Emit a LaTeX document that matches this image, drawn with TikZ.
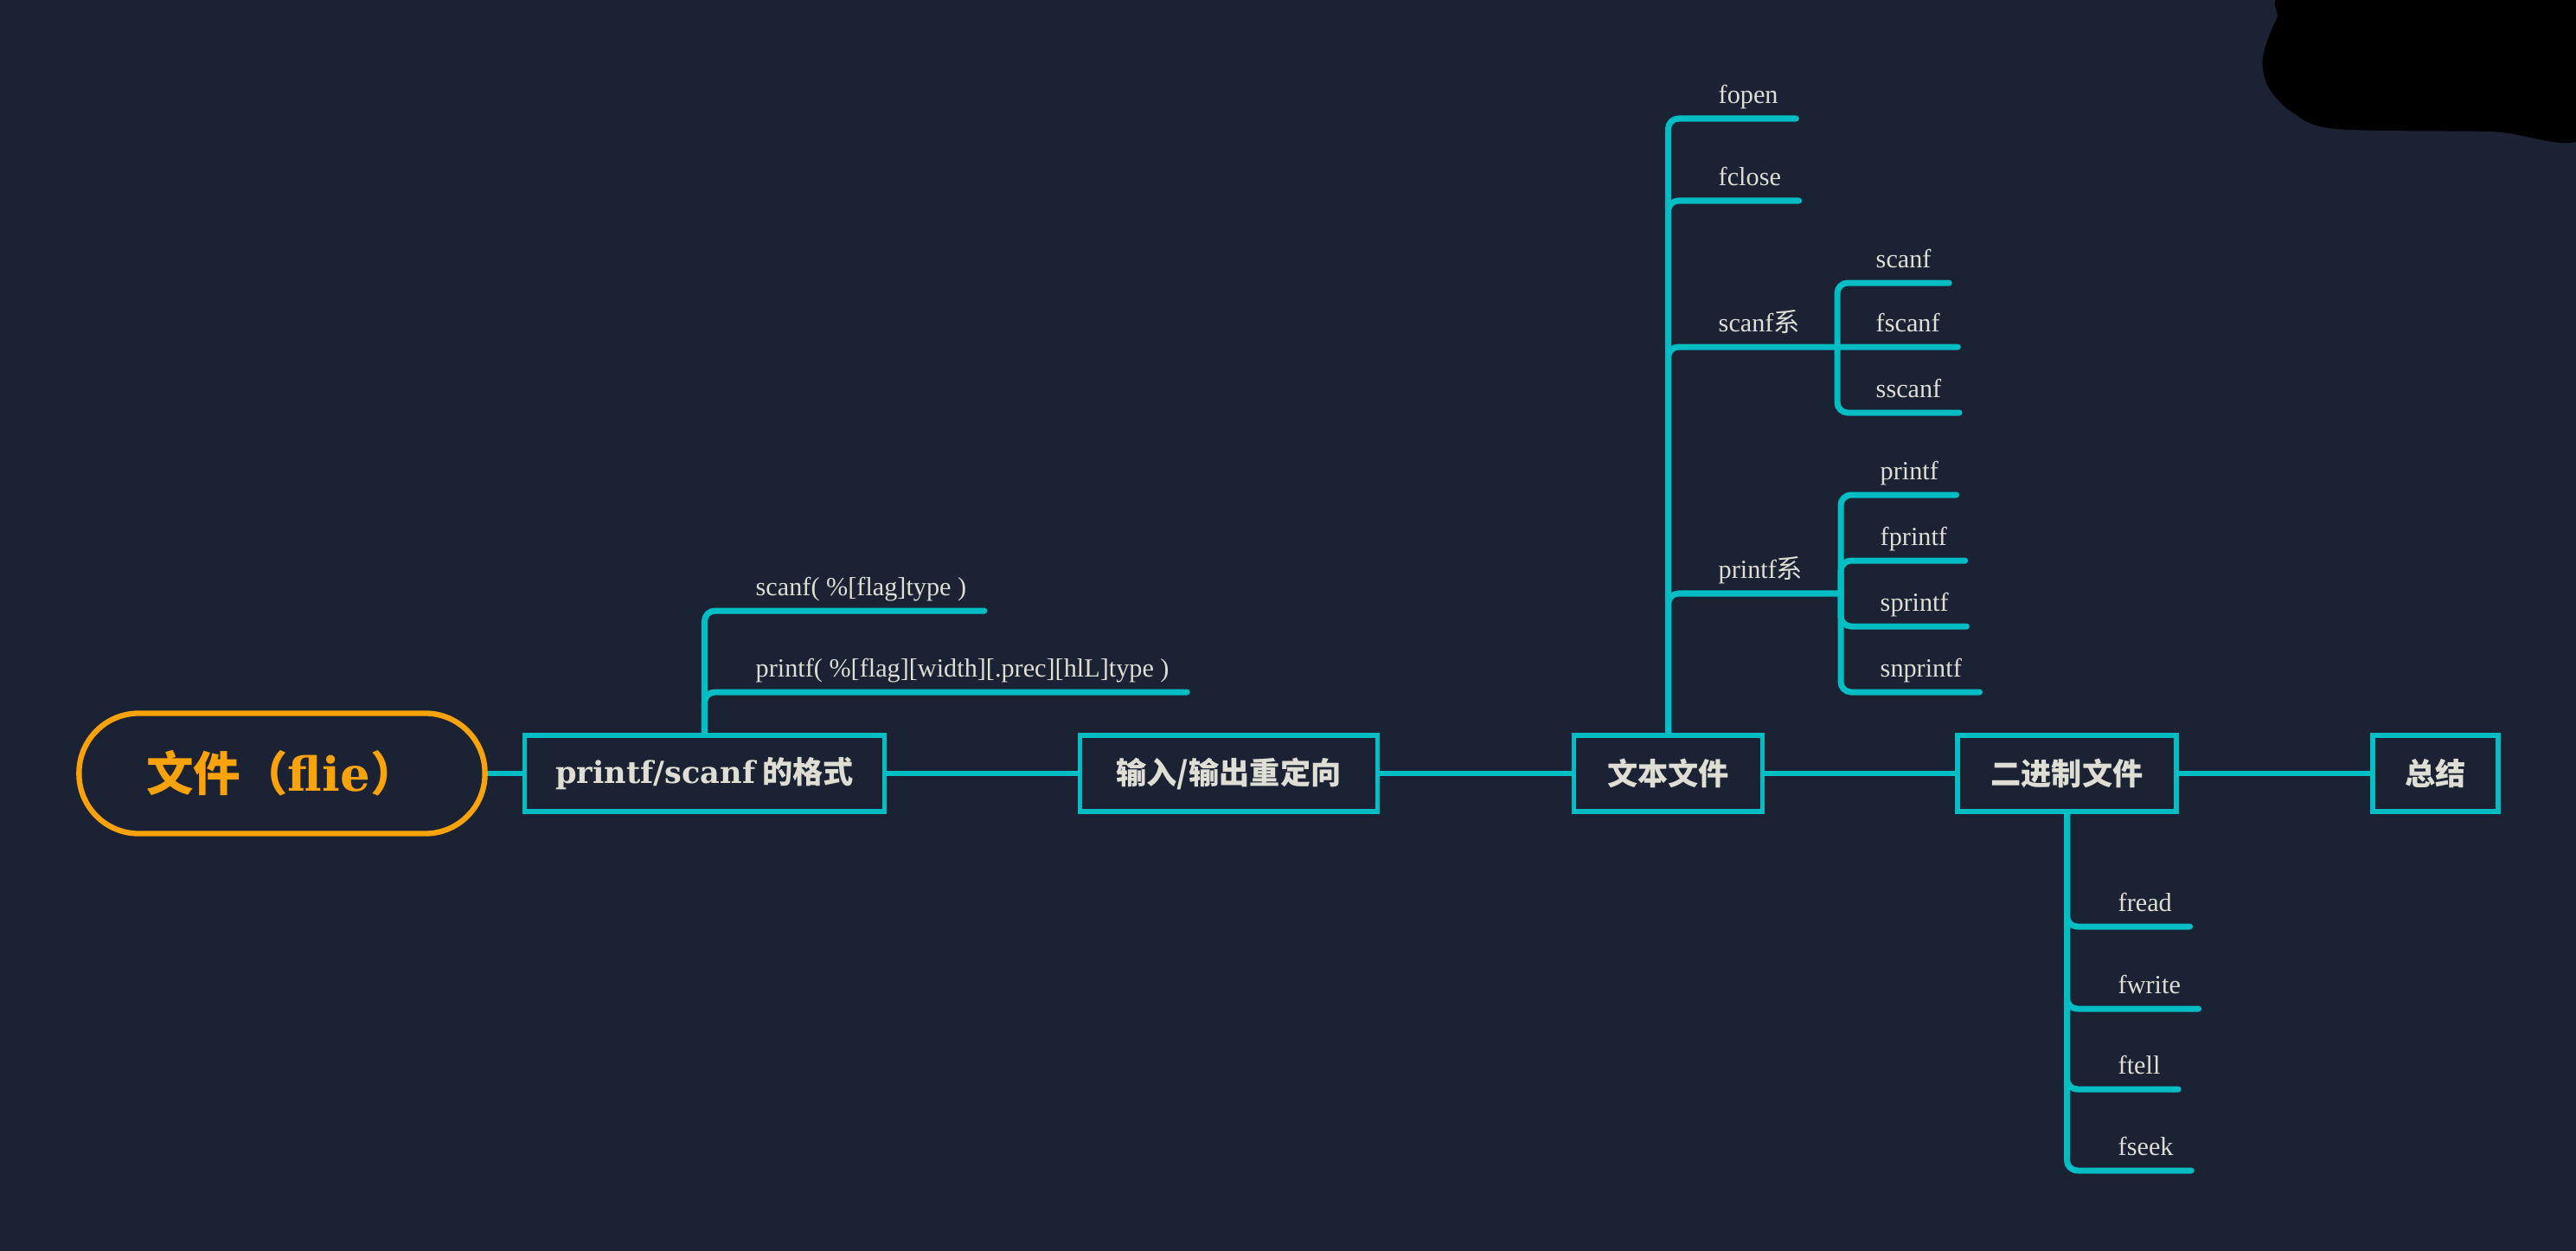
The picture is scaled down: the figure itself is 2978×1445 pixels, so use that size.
\documentclass[tikz,border=0pt]{standalone}
\usepackage{fontspec}
\setmainfont{Liberation Serif}
\newfontfamily\cjk{Noto Sans CJK SC}
\newfontfamily\georgia{DejaVu Serif}
\usetikzlibrary{calc}

\definecolor{bgnavy}{RGB}{27,34,52}
\definecolor{linecyan}{RGB}{0,190,196}
\definecolor{rootorange}{RGB}{250,162,10}
\definecolor{labelgrey}{RGB}{222,222,212}

\tikzset{
	root/.style={draw=rootorange, line width=1.8pt, rounded corners=6.9mm,
		fill=bgnavy, text=rootorange, inner sep=0pt,
		minimum width=4.69cm, minimum height=1.39cm,
		font=\fontsize{15.5}{18}\selectfont\cjk\bfseries},
	topic/.style={draw=linecyan, line width=1.5pt, fill=bgnavy,
		text=labelgrey, inner sep=0pt, minimum height=0.88cm,
		font=\fontsize{10}{12}\selectfont\cjk\bfseries},
	leaf/.style={anchor=base west, inner xsep=2mm, inner ysep=0pt,
		text=labelgrey, font=\fontsize{8.6}{10}\selectfont},
	branch/.style={draw=linecyan, line width=2pt, rounded corners=1.2mm,
		line cap=round},
	link/.style={draw=linecyan, line width=1.6pt}
}

\begin{document}
\begin{tikzpicture}[x=0.01cm, y=-0.01cm]
	\useasboundingbox (0,0) rectangle (2978,1445);
	\fill[bgnavy] (-20,-20) rectangle (2998,1465);
	
	% scribble in the corner
	\fill[black] plot[smooth cycle] coordinates {(2660,-10) (2990,-10)
		(2990,156) (2880,152) (2700,149) (2650,130) (2622,100) (2616,66)
		(2632,22)};
	
	\node[root] (file) at (326,894) {文件（{\georgia flie}）};
	
	\node[topic, minimum width=4.16cm] (fmt)   at (814.5,894)
		{{\georgia printf/scanf} 的格式};
	\node[topic, minimum width=3.44cm] (redir) at (1420.5,894)
		{输入/输出重定向};
	\node[topic, minimum width=2.18cm] (txt)   at (1928.5,894)
		{文本文件};
	\node[topic, minimum width=2.53cm] (bin)   at (2389.5,894)
		{二进制文件};
	\node[topic, minimum width=1.45cm] (sum)   at (2815.5,894)
		{总结};
	
	\draw[link] (file) -- (fmt) -- (redir) -- (txt) -- (bin) -- (sum);
	
	% printf/scanf
	\node[leaf] (scanffmt)  at (853,688) {scanf( \%[flag]type )};
	\node[leaf] (printffmt) at (853,782)
		{printf( \%[flag][width][.prec][hlL]type )};
	
	\draw[branch] (fmt.north) |- ([yshift=-1.8mm]scanffmt.base east);
	\draw[branch] (fmt.north) |- ([yshift=-1.8mm]printffmt.base east);
	
	% text files
	\node[leaf] (fopen)   at (1966,119) {fopen};
	\node[leaf] (fclose)  at (1966,214) {fclose};
	\node[leaf] (scanfs)  at (1966,383) {scanf{\cjk 系}};
	\node[leaf] (printfs) at (1966,668) {printf{\cjk 系}};
	
	\node[leaf] (scanf)  at (2148,309) {scanf};
	\node[leaf] (fscanf) at (2148,383) {fscanf};
	\node[leaf] (sscanf) at (2148,459) {sscanf};
	
	\node[leaf] (printf)   at (2153,554) {printf};
	\node[leaf] (fprintf)  at (2153,630) {fprintf};
	\node[leaf] (sprintf)  at (2153,706) {sprintf};
	\node[leaf] (snprintf) at (2153,782) {snprintf};
	
	\coordinate (scanfj)  at (2124,401);
	\coordinate (printfj) at (2128,686);
	
	\draw[branch] (txt.north) |- ([yshift=-1.8mm]fopen.base east);
	\draw[branch] (txt.north) |- ([yshift=-1.8mm]fclose.base east);
	\draw[branch] (txt.north) |- ([yshift=-1.8mm]fscanf.base east);
	\draw[branch] (txt.north) |- (printfj);
	
	\draw[branch] (scanfj) |- ([yshift=-1.8mm]scanf.base east);
	\draw[branch] (scanfj) |- ([yshift=-1.8mm]sscanf.base east);
	
	\draw[branch] (printfj) |- ([yshift=-1.8mm]printf.base east);
	\draw[branch] (printfj) |- ([yshift=-1.8mm]fprintf.base east);
	\draw[branch] (printfj) |- ([yshift=-1.8mm]sprintf.base east);
	\draw[branch] (printfj) |- ([yshift=-1.8mm]snprintf.base east);
	
	% binary files
	\node[leaf] (fread)  at (2428,1053) {fread};
	\node[leaf] (fwrite) at (2428,1148) {fwrite};
	\node[leaf] (ftell)  at (2428,1241) {ftell};
	\node[leaf] (fseek)  at (2428,1335) {fseek};
	
	\draw[branch] (bin.south) |- ([yshift=-1.8mm]fread.base east);
	\draw[branch] (bin.south) |- ([yshift=-1.8mm]fwrite.base east);
	\draw[branch] (bin.south) |- ([yshift=-1.8mm]ftell.base east);
	\draw[branch] (bin.south) |- ([yshift=-1.8mm]fseek.base east);
\end{tikzpicture}
\end{document}
